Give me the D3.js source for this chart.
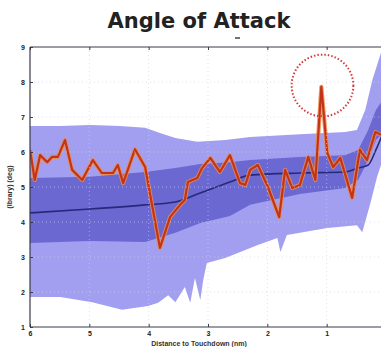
<!DOCTYPE html>
<html><head><meta charset="utf-8">
<script src="https://cdn.jsdelivr.net/npm/d3@7"></script>
<style>html,body{margin:0;padding:0;background:#fff;overflow:hidden}</style>
</head><body>
<svg id="c" width="381" height="347"></svg>
<script>
// ---- data ----
const xTicks = [6, 5, 4, 3, 2, 1];
const yTicks = [1, 2, 3, 4, 5, 6, 7, 8, 9];

const outerHiX = [6.00, 5.49, 4.99, 4.48, 4.06, 3.81, 3.55, 3.18, 2.71, 2.29, 1.45, 0.69, 0.49, 0.35, 0.23, 0.08, 0.00];
const outerHiY = [6.74, 6.74, 6.77, 6.74, 6.69, 6.54, 6.40, 6.29, 6.34, 6.43, 6.51, 6.57, 6.63, 7.20, 8.06, 8.86, 9.00];
const outerLoX = [6.00, 5.49, 4.95, 4.45, 4.01, 3.84, 3.67, 3.55, 3.39, 3.30, 3.22, 3.13, 3.08, 3.02, 2.71, 2.16, 1.83, 1.78, 1.67, 0.99, 0.49, 0.40, 0.27, 0.15, 0.00];
const outerLoY = [1.86, 1.86, 1.71, 1.49, 1.60, 1.69, 1.91, 1.71, 2.14, 1.69, 2.40, 1.77, 2.34, 2.83, 2.97, 3.34, 3.54, 3.14, 3.63, 3.83, 3.91, 3.71, 4.49, 5.29, 6.06];

const bandX   = [6.00, 4.99, 4.06, 3.55, 3.13, 2.63, 2.29, 1.45, 0.69, 0.47, 0.30, 0.17, 0.00];
const innerHi = [5.26, 5.29, 5.43, 5.54, 5.66, 5.71, 5.77, 5.86, 5.91, 6.06, 6.63, 7.20, 7.63];
const innerLo = [3.40, 3.46, 3.43, 3.69, 3.97, 4.17, 4.49, 4.80, 4.97, 5.20, 5.77, 6.34, 6.63];
const meanVal = [4.26, 4.37, 4.49, 4.57, 4.83, 5.14, 5.34, 5.40, 5.43, 5.54, 5.63, 6.06, 6.77];

const redX = [6.00, 5.92, 5.83, 5.71, 5.63, 5.53, 5.41, 5.29, 5.12, 4.94, 4.79, 4.60, 4.52, 4.43, 4.23, 4.06, 3.81, 3.64, 3.47, 3.39, 3.34, 3.18, 3.10, 2.96, 2.80, 2.63, 2.46, 2.37, 2.29, 2.16, 1.99, 1.80, 1.70, 1.58, 1.45, 1.31, 1.19, 1.09, 0.99, 0.89, 0.77, 0.57, 0.44, 0.32, 0.18, 0.08];
const redY = [6.06, 5.20, 5.91, 5.71, 5.86, 5.86, 6.34, 5.49, 5.20, 5.77, 5.40, 5.40, 5.63, 5.11, 6.08, 5.57, 3.26, 4.14, 4.49, 4.63, 5.14, 5.26, 5.54, 5.83, 5.43, 5.91, 5.11, 5.06, 5.49, 5.63, 5.00, 4.14, 5.49, 4.97, 5.06, 5.86, 5.20, 7.86, 5.97, 5.57, 5.83, 4.69, 6.06, 5.77, 6.57, 6.49];

const circleCenter = [1.07, 7.9];
const circleRadiusNm = 0.52;

const title = "Angle of Attack";
const xLabel = "Distance to Touchdown (nm)";
const yLabel = "(Ibrary) (deg)";

// ---- drawing ----
const svg = d3.select("#c");
const x = d3.scaleLinear().domain([6, 0]).range([30, 386]);
const y = d3.scaleLinear().domain([1, 9]).range([327, 47]);

svg.append("defs").append("clipPath").attr("id", "clip")
  .append("rect").attr("x", 30).attr("y", 47).attr("width", 356).attr("height", 280);

const g = svg.append("g").attr("clip-path", "url(#clip)");
const line = d3.line().x(d => x(d[0])).y(d => y(d[1]));

// outer band polygon
const outerPts = outerHiX.map((v, i) => [v, outerHiY[i]])
  .concat(outerLoX.map((v, i) => [v, outerLoY[i]]).reverse());
g.append("path").attr("d", line(outerPts) + "Z").attr("fill", "#a29ff0");

// inner band
const area = d3.area().x((d, i) => x(bandX[i])).y0((d, i) => y(innerLo[i])).y1((d, i) => y(innerHi[i]));
g.append("path").datum(bandX).attr("d", area).attr("fill", "#6b68d2");

// grid
const grid = svg.append("g");
xTicks.slice(1).forEach(t => grid.append("line").attr("x1", x(t)).attr("x2", x(t)).attr("y1", 47).attr("y2", 327)
  .attr("stroke", "#c9d2e6").attr("stroke-width", 0.8).attr("stroke-dasharray", "1,3").attr("opacity", 0.8));
yTicks.slice(1, -1).forEach(t => grid.append("line").attr("x1", 30).attr("x2", 381).attr("y1", y(t)).attr("y2", y(t))
  .attr("stroke", "#c9d2e6").attr("stroke-width", 0.8).attr("stroke-dasharray", "1,3").attr("opacity", 0.8));

// mean line
const meanLine = d3.line().x((d, i) => x(bandX[i])).y((d, i) => y(meanVal[i])).curve(d3.curveMonotoneX);
g.append("path").datum(bandX).attr("d", meanLine).attr("fill", "none").attr("stroke", "#262a7a").attr("stroke-width", 1.6);

// red line
const redPts = redX.map((v, i) => [v, redY[i]]);
const redLine = d3.line().x(d => x(d[0])).y(d => y(d[1]));
g.append("path").datum(redPts).attr("d", redLine).attr("fill", "none").attr("stroke", "#ee8a4a")
  .attr("stroke-width", 4.2).attr("stroke-linejoin", "round").attr("opacity", 0.85);
g.append("path").datum(redPts).attr("d", redLine).attr("fill", "none").attr("stroke", "#c23418")
  .attr("stroke-width", 2.2).attr("stroke-linejoin", "round");

// dotted circle
const r = Math.abs(x(circleCenter[0] + circleRadiusNm) - x(circleCenter[0]));
svg.append("circle").attr("cx", x(circleCenter[0])).attr("cy", y(circleCenter[1])).attr("r", r)
  .attr("fill", "none").attr("stroke", "#d63a3a").attr("stroke-width", 2).attr("stroke-dasharray", "1.5,2");

// axes frame
const axisCol = "#3a3a4a";
svg.append("line").attr("x1", 30).attr("x2", 381).attr("y1", 47).attr("y2", 47).attr("stroke", axisCol).attr("stroke-width", 1);
svg.append("line").attr("x1", 30).attr("x2", 381).attr("y1", 327).attr("y2", 327).attr("stroke", axisCol).attr("stroke-width", 1);
svg.append("line").attr("x1", 30).attr("x2", 30).attr("y1", 47).attr("y2", 327).attr("stroke", axisCol).attr("stroke-width", 1.2);

const xAxis = svg.append("g").attr("transform", "translate(0,327)")
  .call(d3.axisBottom(x).tickValues(xTicks).tickFormat(d3.format("d")).tickSize(-3).tickPadding(4));
const xAxisTop = svg.append("g").attr("transform", "translate(0,47)")
  .call(d3.axisTop(x).tickValues(xTicks).tickFormat("").tickSize(-3));
const yAxis = svg.append("g").attr("transform", "translate(30,0)")
  .call(d3.axisLeft(y).tickValues(yTicks).tickFormat(d3.format("d")).tickSize(-3).tickPadding(5));
[xAxis, xAxisTop, yAxis].forEach(a => {
  a.select(".domain").remove();
  a.selectAll("line").attr("stroke", axisCol);
  a.selectAll("text").attr("fill", "#222").attr("font-family", "Liberation Sans, Arial, sans-serif")
    .attr("font-size", 7).attr("font-weight", "bold");
});

// texts
svg.append("text").attr("x", 199).attr("y", 28).attr("text-anchor", "middle")
  .attr("font-family", "DejaVu Sans, sans-serif").attr("font-weight", "bold")
  .attr("font-size", 21).attr("fill", "#222").text(title);
svg.append("line").attr("x1", 235).attr("x2", 240).attr("y1", 38).attr("y2", 38).attr("stroke", "#444").attr("stroke-width", 1.5);

svg.append("text").attr("x", 199).attr("y", 345.5).attr("text-anchor", "middle")
  .attr("font-family", "Liberation Sans, Arial, sans-serif").attr("font-weight", "bold")
  .attr("font-size", 7).attr("fill", "#333").text(xLabel);
svg.append("text").attr("transform", "translate(12,187) rotate(-90)").attr("text-anchor", "middle")
  .attr("font-family", "Liberation Sans, Arial, sans-serif").attr("font-weight", "bold")
  .attr("font-size", 7).attr("fill", "#333").text(yLabel);
</script>
</body></html>
